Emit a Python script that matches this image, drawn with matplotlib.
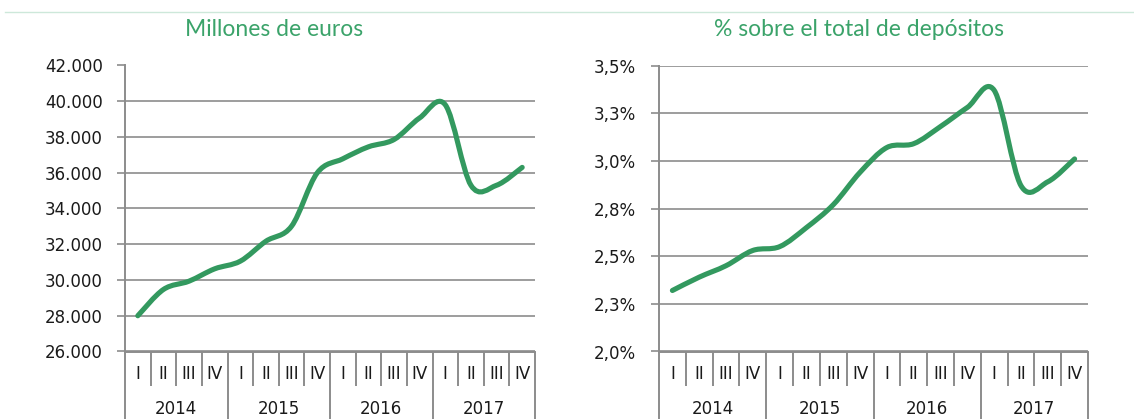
import matplotlib
matplotlib.use("Agg")
import matplotlib.pyplot as plt
import matplotlib.transforms as mtransforms
from matplotlib.path import Path
from matplotlib.patches import PathPatch
from matplotlib.lines import Line2D

plt.rcParams["font.family"] = "DejaVu Sans"

# quarterly series, 2014 Q1 .. 2017 Q4
years = ["2014", "2015", "2016", "2017"]
quarters = ["I", "II", "III", "IV"]

euros = [28000, 29470, 29935, 30625, 31054, 32170, 33010, 35990,
         36780, 37450, 37860, 39070, 39800, 35300, 35300, 36300]
euro_ticks = [26000, 28000, 30000, 32000, 34000, 36000, 38000, 40000, 42000]
euro_labels = ["26.000", "28.000", "30.000", "32.000", "34.000",
               "36.000", "38.000", "40.000", "42.000"]

share = [2.32, 2.39, 2.45, 2.53, 2.55, 2.65, 2.77, 2.94,
         3.07, 3.09, 3.18, 3.28, 3.37, 2.87, 2.89, 3.01]
share_ticks = [2.0, 2.25, 2.5, 2.75, 3.0, 3.25, 3.5]
share_labels = ["2,0%", "2,3%", "2,5%", "2,8%", "3,0%", "3,3%", "3,5%"]

W, H = 1134, 419
GREEN = "#33995f"
TITLE_GREEN = "#3ba36a"
GRID = "#8c8c8c"
TXT = "#1a1a1a"
FS = 12

fig = plt.figure(figsize=(W / 100, H / 100), dpi=100)
fig.patch.set_facecolor("white")

# thin rule along the top
fig.add_artist(Line2D([5 / W, 1], [1 - 12 / H] * 2, color="#cde8da", lw=1.0))


def smooth_path(xs, ys):
    # Excel-style smoothed line: cubic bezier through every point
    verts = [(xs[0], ys[0])]
    codes = [Path.MOVETO]
    n = len(xs)
    for i in range(n - 1):
        x0, y0 = (xs[i - 1], ys[i - 1]) if i > 0 else (xs[i], ys[i])
        x1, y1 = xs[i], ys[i]
        x2, y2 = xs[i + 1], ys[i + 1]
        x3, y3 = (xs[i + 2], ys[i + 2]) if i + 2 < n else (x2, y2)
        c1 = (x1 + (x2 - x0) / 6, y1 + (y2 - y0) / 6)
        c2 = (x2 - (x3 - x1) / 6, y2 - (y3 - y1) / 6)
        verts += [c1, c2, (x2, y2)]
        codes += [Path.CURVE4] * 3
    return Path(verts, codes)


def panel(rect, values, ticks, labels, pad):
    ax = fig.add_axes(rect)
    n = len(values)
    ax.set_xlim(0, n)
    ax.set_ylim(ticks[0], ticks[-1])
    ax.set_yticks(ticks)
    ax.set_yticklabels(labels)
    ax.set_xticks([])
    ax.grid(axis="y", color=GRID, lw=1.2)
    ax.set_axisbelow(True)
    for s in ["top", "right"]:
        ax.spines[s].set_visible(False)
    for s in ["left", "bottom"]:
        ax.spines[s].set_color(GRID)
        ax.spines[s].set_linewidth(1.4)
    ax.tick_params(axis="y", direction="out", length=5.8, width=1.2,
                   color=GRID, pad=pad, labelsize=FS, labelcolor=TXT)

    xs = [i + 0.5 for i in range(n)]
    ax.add_patch(PathPatch(smooth_path(xs, values), fill=False,
                           edgecolor=GREEN, lw=3.7, capstyle="round",
                           joinstyle="round", zorder=3))

    # two-level category axis: quarters, then years
    tr = mtransforms.blended_transform_factory(ax.transData, ax.transAxes)
    h_px = rect[3] * H
    short = -34 / h_px
    full = -70 / h_px
    for k in range(n + 1):
        y_end = full if k % 4 == 0 else short
        ax.plot([k, k], [0, y_end], transform=tr, color=GRID, lw=1.4,
                clip_on=False, solid_capstyle="butt")
    for i in range(n):
        ax.text(i + 0.5, -22 / h_px, quarters[i % 4], transform=tr,
                ha="center", va="center", fontsize=FS, color=TXT)
    for j, yr in enumerate(years):
        ax.text(j * 4 + 2, -57 / h_px, yr, transform=tr,
                ha="center", va="center", fontsize=FS, color=TXT)
    return ax


bottom = (H - 351.5) / H
height = 286 / H
panel([125 / W, bottom, 410 / W, height], euros, euro_ticks, euro_labels, 10)
panel([659 / W, bottom, 429 / W, height], share, share_ticks, share_labels, 11)

fig.text(274 / W, 1 - 30 / H, "Millones de euros", ha="center", va="center",
         fontsize=16.5, color=TITLE_GREEN, family="Lato")
fig.text(859 / W, 1 - 30 / H, "% sobre el total de depósitos", ha="center",
         va="center", fontsize=16.5, color=TITLE_GREEN, family="Lato")

fig.savefig("out.png", dpi=100, facecolor="white")
